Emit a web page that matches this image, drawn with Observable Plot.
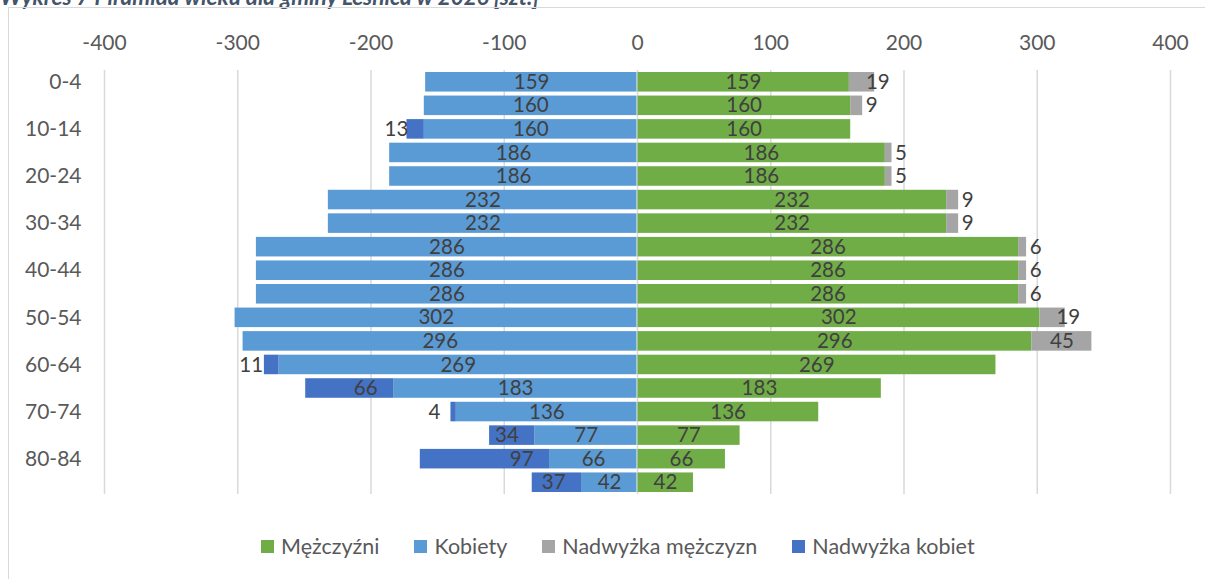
<!DOCTYPE html>
<html>
<head>
<meta charset="utf-8">
<script src="https://cdn.jsdelivr.net/npm/d3@7"></script>
<script src="https://cdn.jsdelivr.net/npm/@observablehq/plot@0.6"></script>
<style>
  html, body { margin: 0; padding: 0; background: #fff; width: 1205px; height: 579px; overflow: hidden; position: relative; font-family: Lato, "Open Sans", sans-serif; }
  #title { position: absolute; left: 0; top: -17px; line-height: 1.2; font-size: 22.5px; font-style: italic; font-weight: bold; color: #44546A; white-space: nowrap; }
  #frame { position: absolute; left: 8px; top: 7px; width: 1220px; height: 600px; border: 1.5px solid #d9d9d9; }
  #chart { position: absolute; left: 0; top: 0; }
  #chart svg { display: block; }
  #legend { position: absolute; top: 533px; left: 261px; display: flex; align-items: center; font-size: 21.5px; color: #595959; white-space: nowrap; }
  .item { display: flex; align-items: center; margin-right: 35px; }
  .sw { width: 13px; height: 13px; margin-right: 7px; }
</style>
</head>
<body>
<div id="title">Wykres 7 Piramida wieku dla gminy Leśnica w 2026 [szt.]</div>
<div id="frame"></div>
<div id="chart"></div>
<div id="legend"></div>
<script>
const ages = ["0-4","5-9","10-14","15-19","20-24","25-29","30-34","35-39","40-44","45-49","50-54","55-59","60-64","65-69","70-74","75-79","80-84","85+"];
const kobiety = [159,160,160,186,186,232,232,286,286,286,302,296,269,183,136,77,66,42];
const mezczyzni = [159,160,160,186,186,232,232,286,286,286,302,296,269,183,136,77,66,42];
const nadwyzkaMezczyzn = [19,9,0,5,5,9,9,6,6,6,19,45,0,0,0,0,0,0];
const nadwyzkaKobiet = [0,0,13,0,0,0,0,0,0,0,0,0,11,66,4,34,97,37];
const xTicks = [-400,-300,-200,-100,0,100,200,300,400];
const yTickLabels = ["0-4","10-14","20-24","30-34","40-44","50-54","60-64","70-74","80-84"];
const seriesNames = ["Mężczyźni","Kobiety","Nadwyżka mężczyzn","Nadwyżka kobiet"];
const seriesColors = ["#70AD47","#5B9BD5","#A5A5A5","#4472C4"];

const rows = ages.map((a, i) => ({age: a, k: kobiety[i], m: mezczyzni[i], nm: nadwyzkaMezczyzn[i], nk: nadwyzkaKobiet[i]}));
const rowsNK = rows.filter(d => d.nk > 0);
const rowsNM = rows.filter(d => d.nm > 0);
const labelFill = "#404040";
const fs = 20.5;
const axisFs = 21;

const chart = Plot.plot({
  width: 1205, height: 510,
  marginLeft: 104, marginRight: 35, marginTop: 70, marginBottom: 16,
  x: {domain: [-400, 400]},
  y: {domain: ages, paddingInner: 0.17, paddingOuter: 0.085, round: false},
  style: {fontFamily: "Lato, 'Open Sans', sans-serif", background: "transparent", color: "#595959"},
  marks: [
    Plot.ruleX(xTicks, {stroke: "#d9d9d9", strokeWidth: 1.5}),
    Plot.barX(rows, {y: "age", x1: d => -d.k, x2: 0, fill: seriesColors[1], insetRight: 0.5}),
    Plot.barX(rowsNK, {y: "age", x1: d => -(d.k + d.nk), x2: d => -d.k, fill: seriesColors[3]}),
    Plot.barX(rows, {y: "age", x1: 0, x2: d => d.m, fill: seriesColors[0], insetLeft: 0.5}),
    Plot.barX(rowsNM, {y: "age", x1: d => d.m, x2: d => d.m + d.nm, fill: seriesColors[2]}),
    Plot.text(rows, {y: "age", x: d => -d.k / 2, text: d => String(d.k), fill: labelFill, fontSize: fs}),
    Plot.text(rows, {y: "age", x: d => d.m / 2, text: d => String(d.m), fill: labelFill, fontSize: fs}),
    Plot.text(rowsNK, {y: "age", x: d => -d.k, text: d => String(d.nk), fill: labelFill, fontSize: fs, textAnchor: "end", dx: -16}),
    Plot.text(rowsNM.filter(d => d.nm < 30), {y: "age", x: d => d.m + d.nm, text: d => String(d.nm), fill: labelFill, fontSize: fs, textAnchor: "end", dx: 15}),
    Plot.text(rowsNM.filter(d => d.nm >= 30), {y: "age", x: d => d.m + d.nm / 2, text: d => String(d.nm), fill: labelFill, fontSize: fs}),
    Plot.axisX({anchor: "top", ticks: xTicks, tickSize: 0, tickPadding: 21, fontSize: axisFs, tickFormat: d => String(d), label: null}),
    Plot.axisY({ticks: yTickLabels, tickSize: 0, tickPadding: 23, fontSize: axisFs, label: null})
  ]
});
document.getElementById("chart").appendChild(chart);

const legend = document.getElementById("legend");
seriesNames.forEach((n, i) => {
  const it = document.createElement("div");
  it.className = "item";
  const sw = document.createElement("div");
  sw.className = "sw";
  sw.style.background = seriesColors[i];
  const t = document.createElement("span");
  t.textContent = n;
  it.appendChild(sw); it.appendChild(t);
  legend.appendChild(it);
});
</script>
</body>
</html>
